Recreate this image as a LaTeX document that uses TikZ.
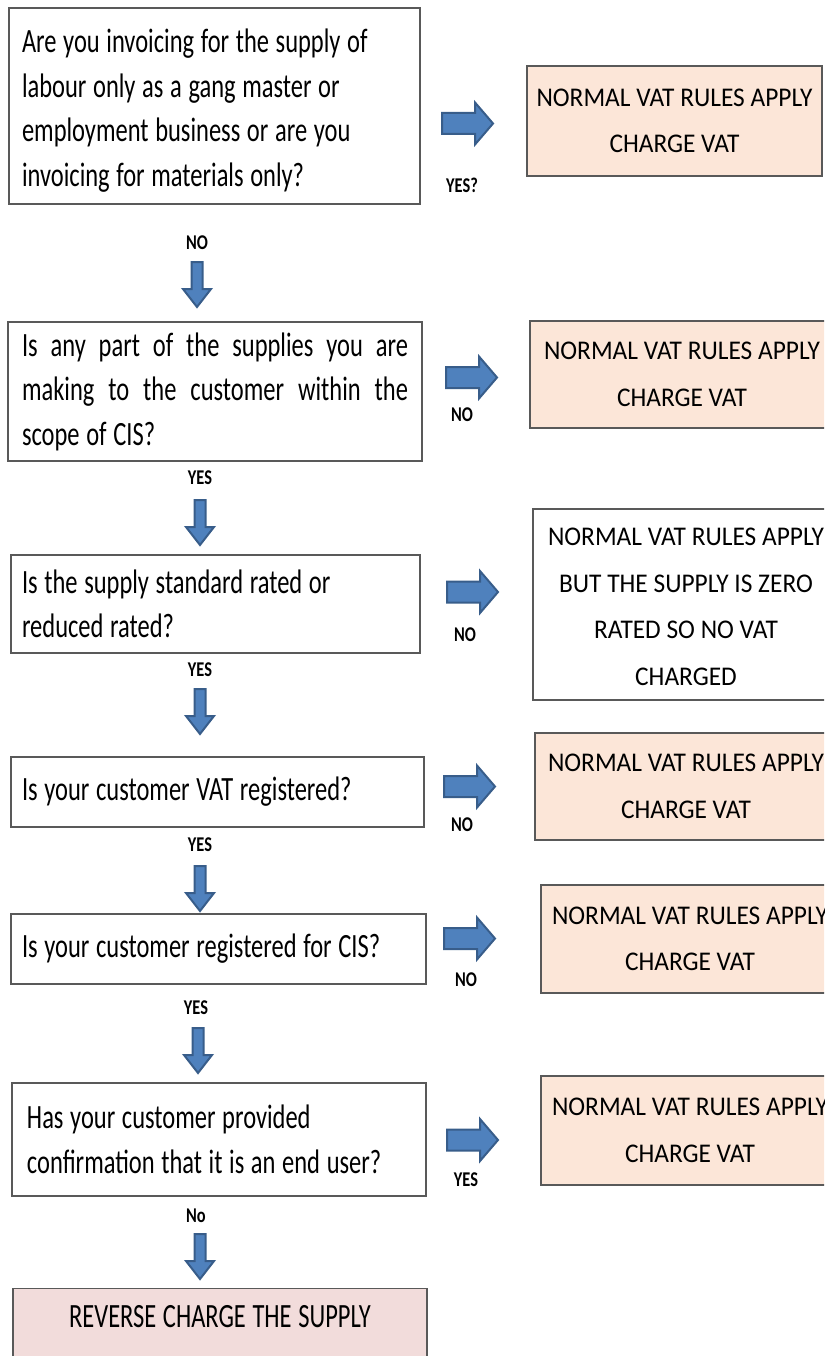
\documentclass[tikz,border=0pt]{standalone}
\usepackage{fontspec}
\setmainfont{Carlito}
\newfontfamily\qfont{Carlito}[FakeStretch=0.72, WordSpace=1.2]
\newfontfamily\rfont{Carlito}[FakeStretch=0.94]
\newfontfamily\lfont{Carlito}[FakeStretch=0.78]
\definecolor{peach}{HTML}{FCE6D8}
\definecolor{rose}{HTML}{F2DCDB}
\definecolor{arrowfill}{HTML}{4F81BD}
\definecolor{arrowline}{HTML}{385D8A}
\definecolor{boxline}{HTML}{595959}
\tikzset{
  question/.style={draw=boxline, line width=1.1pt, fill=white, align=flush left,
    font=\qfont\fontsize{34}{44.5}\selectfont, inner ysep=0pt},
  outcome/.style={draw=boxline, line width=1.1pt, fill=peach, align=center,
    font=\rfont\fontsize{27}{46.5}\selectfont, inner sep=0pt},
  finalbox/.style={draw=boxline, line width=1.1pt, fill=rose, align=center,
    font=\qfont\fontsize{34}{40}\selectfont, inner xsep=0pt},
  lab/.style={font=\lfont\bfseries\fontsize{21}{24}\selectfont, inner sep=0pt},
  blockarrow/.style={fill=arrowfill, draw=arrowline, line width=2pt, line join=miter},
  rightblock/.pic={\path[blockarrow] (1,-10.5) -- (34,-10.5) -- (34,-21) -- (52,0)
    -- (34,21) -- (34,10.5) -- (1,10.5) -- cycle;},
  downblock/.pic={\path[blockarrow] (-5.5,1) -- (5.5,1) -- (5.5,28) -- (14,28)
    -- (0,46) -- (-14,28) -- (-5.5,28) -- cycle;}
}
\begin{document}
\begin{tikzpicture}[x=1pt,y=-1pt]
\useasboundingbox (0,0) rectangle (824,1356);
\clip (0,0) rectangle (824,1356);

% questions
\node[question, text width=385pt, inner xsep=13pt, minimum height=196pt] (q1) at (214.5,106)
  {\rule{0pt}{33pt}Are you invoicing for the supply of\\labour only as a gang master or\\employment business or are you\\invoicing for materials only?};
\node[question, text width=386pt, inner xsep=14pt, minimum height=139pt] (q2) at (215,391.5)
  {\makebox[386pt][s]{Is any part of the supplies you are}\\\makebox[386pt][s]{making to the customer within the}\\scope of CIS?};
\node[question, text width=387pt, inner xsep=11pt, minimum height=98pt] (q3) at (215.5,604)
  {Is the supply standard rated or\\reduced rated?};
\node[question, text width=391pt, inner xsep=11pt, minimum height=70pt] (q4) at (217.5,792)
  {Is your customer VAT registered?};
\node[question, text width=393pt, inner xsep=11pt, minimum height=70pt] (q5) at (218.5,949)
  {Is your customer registered for CIS?};
\node[question, text width=384pt, inner xsep=15pt, minimum height=113pt] (q6) at (219,1139.5)
  {Has your customer provided\\confirmation that it is an end user?};
\node[finalbox, anchor=north, minimum width=414pt, inner ysep=17pt, text depth=70pt] (rev) at (220,1288)
  {REVERSE CHARGE THE SUPPLY};

% outcomes
\node[outcome, minimum width=295pt, minimum height=110pt] (o1) at (674.5,121)
  {NORMAL VAT RULES APPLY\\CHARGE VAT};
\node[outcome, minimum width=304pt, minimum height=107pt] (o2) at (682,374.5)
  {NORMAL VAT RULES APPLY\\CHARGE VAT};
\node[outcome, fill=white, minimum width=306pt, minimum height=191pt] (o3) at (686,604.5)
  {\rule{0pt}{22pt}NORMAL VAT RULES APPLY\\BUT THE SUPPLY IS ZERO\\RATED SO NO VAT\\CHARGED};
\node[outcome, minimum width=302pt, minimum height=107pt] (o4) at (686,786.5)
  {NORMAL VAT RULES APPLY\\CHARGE VAT};
\node[outcome, minimum width=298pt, minimum height=108pt] (o5) at (690,939)
  {NORMAL VAT RULES APPLY\\CHARGE VAT};
\node[outcome, minimum width=298pt, minimum height=109pt] (o6) at (690,1130.5)
  {NORMAL VAT RULES APPLY\\CHARGE VAT};

% sideways arrows with their answers
\pic (ra1) at (441,123.5) {rightblock};
\pic (ra2) at (445,377.5) {rightblock};
\pic (ra3) at (446,592) {rightblock};
\pic (ra4) at (443,786.5) {rightblock};
\pic (ra5) at (443,938.5) {rightblock};
\pic (ra6) at (446,1140) {rightblock};
\node[lab] (ya1) at (462,185) {YES?};
\node[lab] (na2) at (462,415) {NO};
\node[lab] (na3) at (465,635) {NO};
\node[lab] (na4) at (462,825) {NO};
\node[lab] (na5) at (466,980) {NO};
\node[lab] (ya6) at (466,1180) {YES};

% downward arrows with their answers
\pic (da1) at (197,261) {downblock};
\pic (da2) at (200,499) {downblock};
\pic (da3) at (200,688) {downblock};
\pic (da4) at (200,865) {downblock};
\pic (da5) at (198,1027) {downblock};
\pic (da6) at (200,1233) {downblock};
\node[lab] (nd1) at (197,243) {NO};
\node[lab] (yd2) at (200,478) {YES};
\node[lab] (yd3) at (200,670) {YES};
\node[lab] (yd4) at (200,845) {YES};
\node[lab] (yd5) at (196,1008) {YES};
\node[lab] (nd6) at (196,1216) {No};
\end{tikzpicture}
\end{document}
